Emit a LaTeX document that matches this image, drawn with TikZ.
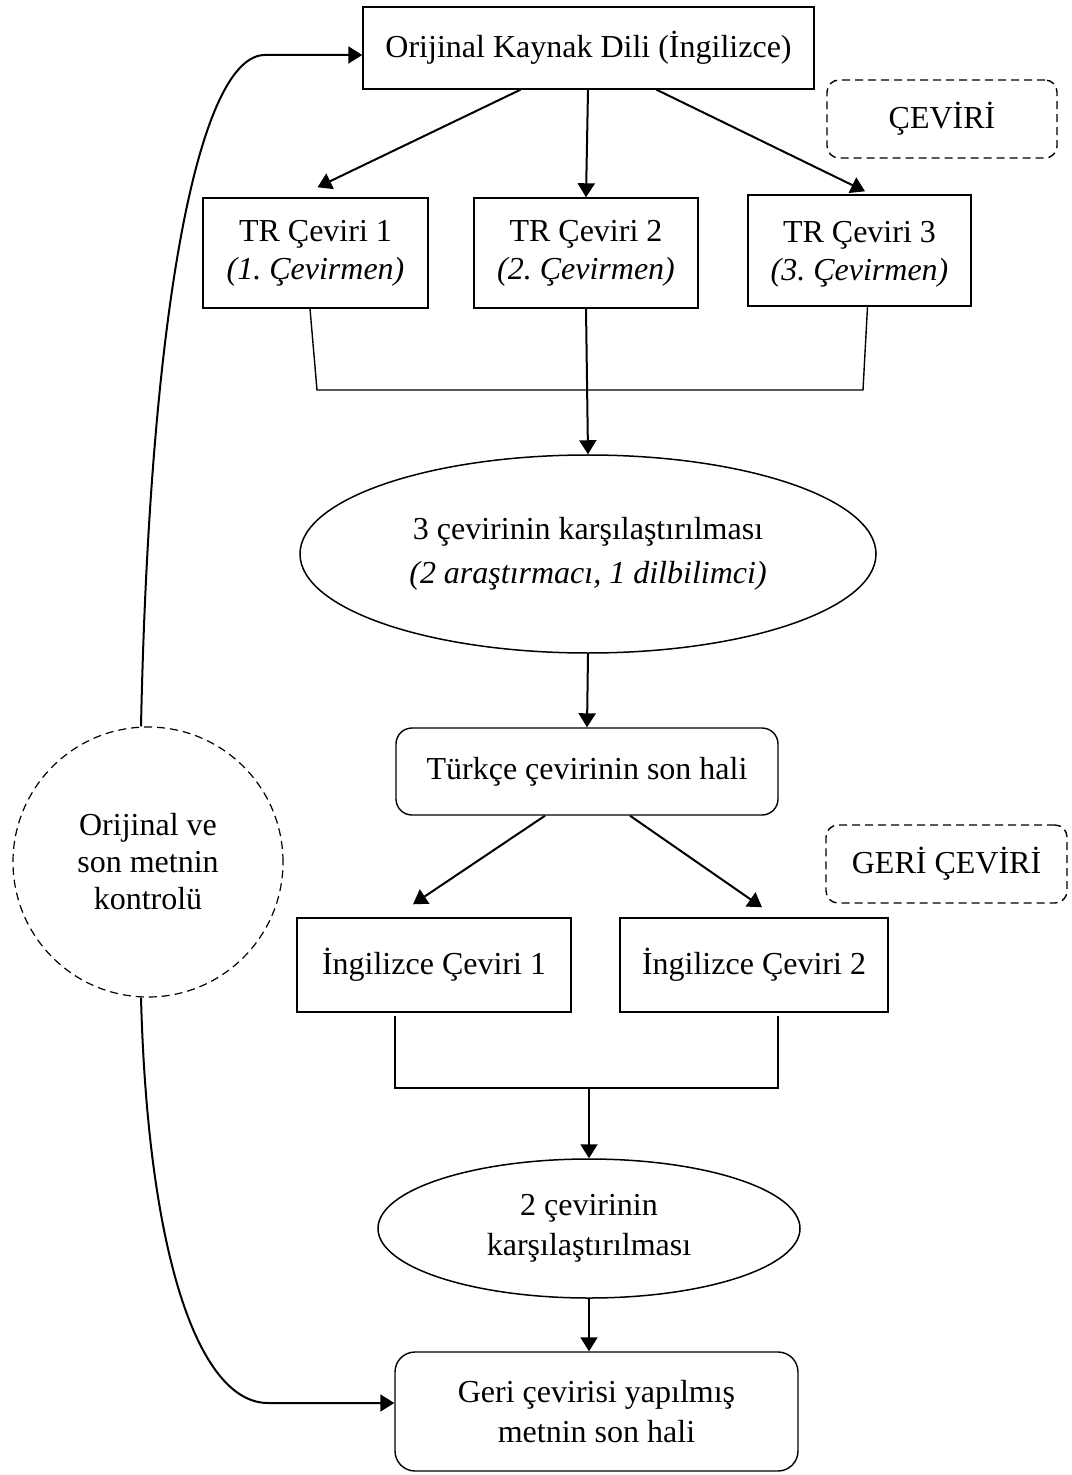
\documentclass[tikz,border=0pt]{standalone}
\usepackage{fontspec}
\setmainfont{Liberation Serif}
\usetikzlibrary{arrows.meta,shapes.geometric,calc}
\frenchspacing

\begin{document}
\begin{tikzpicture}[x=0.5pt,y=-0.5pt,
  every node/.style={font=\fontsize{16}{19}\selectfont, inner sep=0pt, align=center},
  box/.style={draw, line width=0.7pt, rectangle},
  rbox/.style={box, rounded corners=8pt},
  tagbox/.style={draw, dash pattern=on 4pt off 2.5pt, line width=0.7pt, rounded corners=6pt},
  oval/.style={draw, ellipse, line width=0.75pt},
  ring/.style={draw, circle, dash pattern=on 4pt off 2.5pt, line width=0.6pt},
  tip/.style={-{Triangle[length=7pt,width=8.5pt]}},
  arr/.style={line width=1pt, tip},
  link/.style={line width=0.7pt},
  loop/.style={line width=1pt, tip},
]
\useasboundingbox (0,0) rectangle (1071,1475);

% --- translation stage ---
\node[box, minimum width=225.5pt, minimum height=41pt] (src) at (588.5,48) {Orijinal Kaynak Dili (İngilizce)};
\node[tagbox, minimum width=115pt, minimum height=39pt] (tcev) at (942,119) {ÇEVİRİ};

\node[box, minimum width=112.5pt, minimum height=55pt] (tr1) at (315.5,253) {TR Çeviri 1\\\textit{(1. Çevirmen)}};
\node[box, minimum width=112pt, minimum height=55pt] (tr2) at (586,253) {TR Çeviri 2\\\textit{(2. Çevirmen)}};
\node[box, minimum width=111.5pt, minimum height=55.5pt, text depth=0pt] (tr3) at (859.5,250.5) {TR Çeviri 3\\\textit{(3. Çevirmen)}};

\draw[arr] ([xshift=-34pt]src.south) -- ([yshift=5pt,xshift=1pt]tr1.north);
\draw[arr] ([xshift=-0.25pt]src.south) -- (tr2.north);
\draw[arr] ([xshift=34pt]src.south) -- ([yshift=1.5pt,xshift=2.75pt]tr3.north);

% bracket joining the three translations
\coordinate (b1) at (317,390);
\coordinate (b2) at (863,390);
\draw[link] ([xshift=-2.75pt]tr1.south) -- (b1) -- (b2) -- ([xshift=4pt]tr3.south);

\node[oval, minimum width=288pt, minimum height=99pt, font=\fontsize{16}{22}\selectfont] (cmp3) at (588,554)
  {3 çevirinin karşılaştırılması\\\textit{(2 araştırmacı, 1 dilbilimci)}};
\draw[arr] (tr2.south) -- (cmp3.north);

\node[rbox, minimum width=191pt, minimum height=43.5pt] (trfinal) at (587,771.5) {Türkçe çevirinin son hali};
\draw[arr] (cmp3.south) -- (trfinal.north);

% --- back-translation stage ---
\node[tagbox, minimum width=120.5pt, minimum height=39pt] (tgeri) at (946.5,864) {GERİ ÇEVİRİ};

\node[box, minimum width=137pt, minimum height=47pt] (en1) at (434,965) {İngilizce Çeviri 1};
\node[box, minimum width=134pt, minimum height=47pt] (en2) at (754,965) {İngilizce Çeviri 2};

\draw[arr] ([xshift=-21pt]trfinal.south) -- ([xshift=-10.5pt,yshift=6.5pt]en1.north);
\draw[arr] ([xshift=21.5pt]trfinal.south) -- ([xshift=4pt,yshift=5pt]en2.north);

% bracket joining the two back-translations
\coordinate (c1) at (395,1016);
\coordinate (c2) at (395,1088);
\coordinate (c3) at (778,1088);
\coordinate (c4) at (778,1016);
\coordinate (cj) at (589,1088);
\draw[link] (c1) -- (c2) -- (c3) -- (c4);

\node[oval, minimum width=211pt, minimum height=69.5pt, font=\fontsize{16}{20}\selectfont] (cmp2) at (589,1228.5)
  {2 çevirinin\\karşılaştırılması};
\draw[arr] (cj) -- (cmp2.north);

\node[rbox, rounded corners=10pt, minimum width=201.5pt, minimum height=59.5pt, font=\fontsize{16}{20}\selectfont] (final) at (596.5,1411.5)
  {Geri çevirisi yapılmış\\metnin son hali};
\draw[arr] (cmp2.south) -- ([xshift=-3.75pt]final.north);

% --- control loop ---
\node[ring, minimum size=135pt, font=\fontsize{16}{18.5}\selectfont] (check) at (148,862)
  {Orijinal ve\\son metnin\\kontrolü};

\draw[loop]
  ([xshift=-3.5pt]check.north) .. controls (150,300) and (200,55) .. (265,55) -- ([yshift=-3.5pt]src.west);
\draw[loop]
  ([xshift=-3.5pt]check.south) .. controls (148,1260) and (200,1403) .. (268,1403) -- ([yshift=4.25pt]final.west);

\end{tikzpicture}
\end{document}
